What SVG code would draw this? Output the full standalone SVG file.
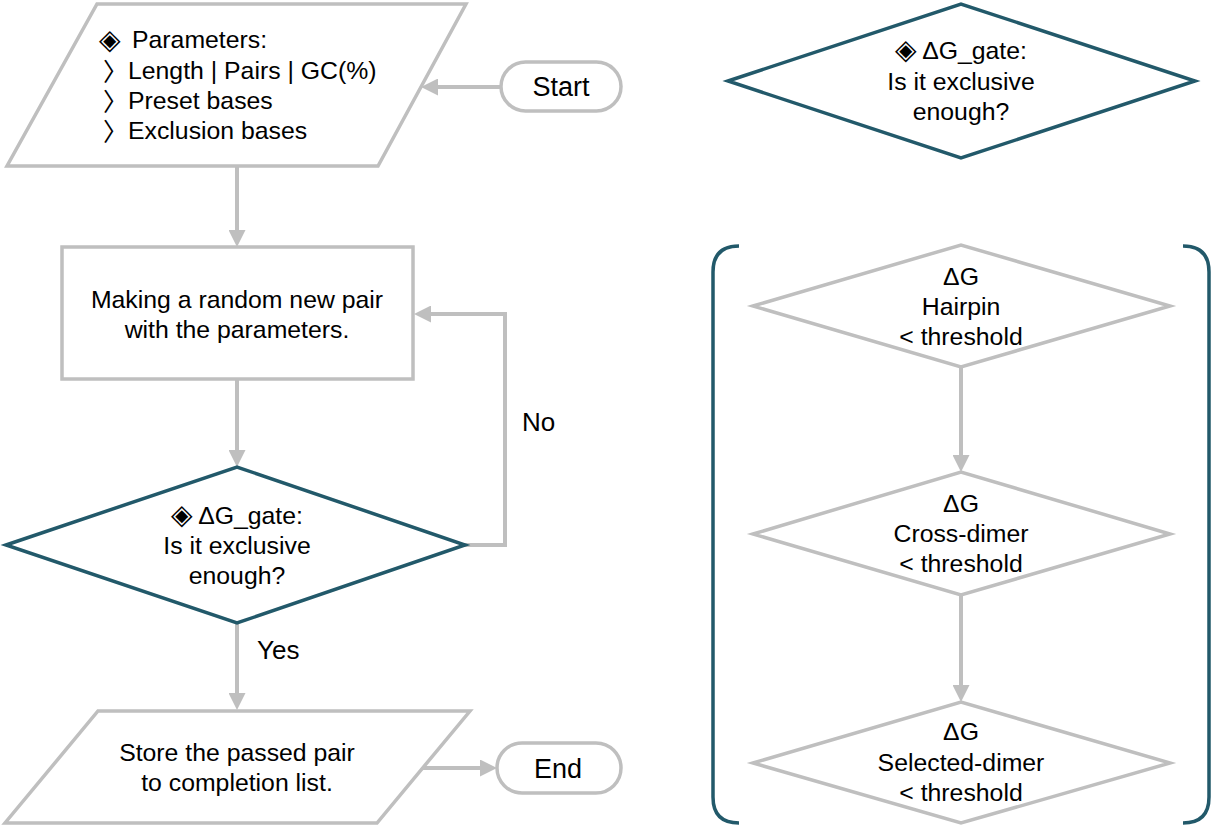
<svg xmlns="http://www.w3.org/2000/svg" width="1211" height="826" viewBox="0 0 1211 826">
<defs>
<style>
.g{fill:#ffffff;stroke:#bfbfbf;stroke-width:3.5;stroke-linejoin:miter}
.t{fill:#ffffff;stroke:#22596a;stroke-width:3.5;stroke-linejoin:miter}
.c{fill:none;stroke:#bfbfbf;stroke-width:4}
.br{fill:none;stroke:#22596a;stroke-width:3.5}
text{font-family:"Liberation Sans",Arial,"DejaVu Sans","Noto Sans CJK JP",sans-serif;font-size:24.8px;fill:#000000}
.m{text-anchor:middle}
.big{font-size:27px}
.lbl{font-size:26px}
.sym{font-family:"DejaVu Sans","Noto Sans CJK JP",sans-serif;font-size:28px}
.chev{font-family:"DejaVu Sans","Noto Sans CJK JP",sans-serif;font-size:25px}
</style>
<marker id="ah" markerUnits="userSpaceOnUse" markerWidth="17" markerHeight="17" viewBox="0 0 17 17" refX="5" refY="8.5" orient="auto">
<path d="M0,0 L17,8.5 L0,17 z" fill="#bfbfbf"/>
</marker>
</defs>
<rect width="1211" height="826" fill="#ffffff"/>

<g id="connectors">
<line class="c" x1="501" y1="87" x2="433" y2="87" marker-end="url(#ah)"/>
<line class="c" x1="237" y1="167" x2="237" y2="235" marker-end="url(#ah)"/>
<line class="c" x1="237" y1="379" x2="237" y2="455" marker-end="url(#ah)"/>
<polyline class="c" points="465,545 505,545 505,314 426,314" marker-end="url(#ah)"/>
<line class="c" x1="237" y1="622" x2="237" y2="698" marker-end="url(#ah)"/>
<line class="c" x1="423" y1="768" x2="485" y2="768" marker-end="url(#ah)"/>
<line class="c" x1="961" y1="367" x2="961" y2="460" marker-end="url(#ah)"/>
<line class="c" x1="961" y1="595" x2="961" y2="690" marker-end="url(#ah)"/>
<text class="lbl" x="522" y="431">No</text>
<text class="lbl" x="257" y="659">Yes</text>
</g>

<g id="parameters">
<polygon class="g" points="97,4 466,4 378,166 7,166"/>
<text x="99" y="49"><tspan class="sym">◈</tspan><tspan x="132" y="48">Parameters:</tspan></text>
<text x="103" y="81"><tspan class="chev">〉</tspan><tspan x="128" y="79">Length | Pairs | GC(%)</tspan></text>
<text x="103" y="111"><tspan class="chev">〉</tspan><tspan x="128" y="109">Preset bases</tspan></text>
<text x="103" y="141"><tspan class="chev">〉</tspan><tspan x="128" y="139">Exclusion bases</tspan></text>
</g>

<g id="start">
<rect class="g" x="501" y="62" width="120" height="49" rx="24.5"/>
<text class="m big" x="561" y="96">Start</text>
</g>

<g id="make-pair">
<rect class="g" x="62" y="247" width="351" height="132"/>
<text class="m" x="237" y="308">Making a random new pair</text>
<text class="m" x="237" y="338">with the parameters.</text>
</g>

<g id="gate-decision">
<polygon class="t" points="6,545 237,467 465,545 237,623"/>
<text class="m" x="237" y="524"><tspan class="sym">◈</tspan> ΔG_gate:</text>
<text class="m" x="237" y="554">Is it exclusive</text>
<text class="m" x="237" y="584">enough?</text>
</g>

<g id="store">
<polygon class="g" points="98,711 470,711 377,823 5,823"/>
<text class="m" x="237" y="761">Store the passed pair</text>
<text class="m" x="237" y="791">to completion list.</text>
</g>

<g id="end">
<rect class="g" x="497" y="743" width="124" height="50" rx="25"/>
<text class="m big" x="558" y="778">End</text>
</g>

<g id="gate-legend">
<polygon class="t" points="728,81 961,4 1195,81 961,158"/>
<text class="m" x="961" y="59"><tspan class="sym">◈</tspan> ΔG_gate:</text>
<text class="m" x="961" y="90">Is it exclusive</text>
<text class="m" x="961" y="120">enough?</text>
</g>

<g id="bracket">
<path class="br" d="M739,246 Q713,246 713,272 L713,797 Q713,823 739,823"/>
<path class="br" d="M1183,246 Q1209,246 1209,272 L1209,797 Q1209,823 1183,823"/>
</g>

<g id="hairpin">
<polygon class="g" points="753,306 961,245 1170,306 961,367"/>
<text class="m" x="961" y="285">ΔG</text>
<text class="m" x="961" y="315">Hairpin</text>
<text class="m" x="961" y="345">&lt; threshold</text>
</g>

<g id="cross-dimer">
<polygon class="g" points="753,534 961,472 1170,534 961,595"/>
<text class="m" x="961" y="512">ΔG</text>
<text class="m" x="961" y="542">Cross-dimer</text>
<text class="m" x="961" y="572">&lt; threshold</text>
</g>

<g id="selected-dimer">
<polygon class="g" points="753,763 961,702 1170,763 961,823"/>
<text class="m" x="961" y="740">ΔG</text>
<text class="m" x="961" y="771">Selected-dimer</text>
<text class="m" x="961" y="801">&lt; threshold</text>
</g>
</svg>
